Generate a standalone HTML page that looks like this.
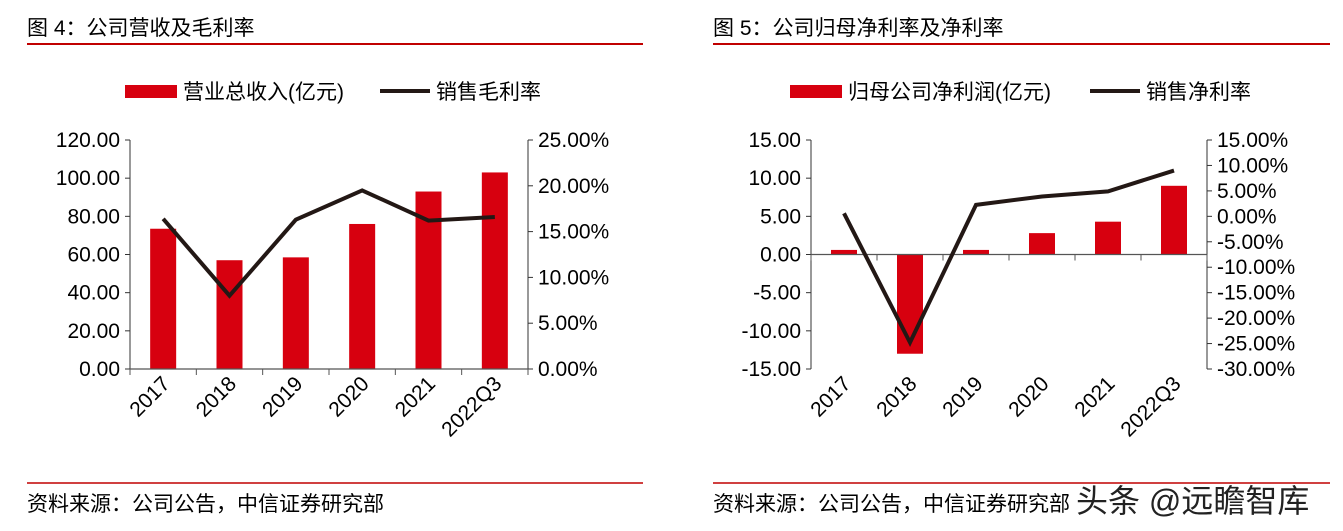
<!DOCTYPE html>
<html><head><meta charset="utf-8"><style>
body{margin:0;background:#fff;}
svg{display:block;font-family:"Liberation Sans","Noto Sans CJK SC",sans-serif;}
</style></head><body>
<svg id="s" width="1343" height="531" viewBox="0 0 1343 531" xmlns="http://www.w3.org/2000/svg">
<text x="27" y="35" font-size="21" fill="#000">图 4：公司营收及毛利率</text>
<line x1="27" y1="44" x2="643" y2="44" stroke="#c00000" stroke-width="2"/>
<text x="713" y="35" font-size="21" fill="#000">图 5：公司归母净利率及净利率</text>
<line x1="713" y1="44" x2="1330" y2="44" stroke="#c00000" stroke-width="2"/>
<line x1="27" y1="483" x2="643" y2="483" stroke="#c00000" stroke-width="1.5"/>
<line x1="713" y1="483" x2="1330" y2="483" stroke="#c00000" stroke-width="1.5"/>
<text x="27" y="511" font-size="21">资料来源：公司公告，中信证券研究部</text>
<text x="713" y="511" font-size="21">资料来源：公司公告，中信证券研究部</text>
<text x="1076" y="512" font-size="32" fill="#222">头条 @远瞻智库</text>
<g>
<rect x="125" y="85" width="52" height="13" fill="#d7000f"/>
<text x="183" y="99" font-size="21">营业总收入(亿元)</text>
<line x1="380" y1="91" x2="430" y2="91" stroke="#231815" stroke-width="4"/>
<text x="436" y="99" font-size="21">销售毛利率</text>
</g>
<g>
<rect x="790" y="85" width="52" height="13" fill="#d7000f"/>
<text x="848" y="99" font-size="21">归母公司净利润(亿元)</text>
<line x1="1090" y1="91" x2="1140" y2="91" stroke="#231815" stroke-width="4"/>
<text x="1146" y="99" font-size="21">销售净利率</text>
</g>
<g id="c1"></g><g id="c2"></g>
</svg>
<script>
const categories = ["2017","2018","2019","2020","2021","2022Q3"];
const revenue = [73.5,57,58.5,76,93,103];
const grossMargin = [16.4,8.0,16.3,19.5,16.2,16.6];
const leftTicks1 = ["0.00","20.00","40.00","60.00","80.00","100.00","120.00"];
const rightTicks1 = ["0.00%","5.00%","10.00%","15.00%","20.00%","25.00%"];
const netProfit = [0.6,-13,0.6,2.8,4.3,9.0];
const netMargin = [0.6,-24.8,2.25,3.9,4.9,9.0];
const leftTicks2 = ["-15.00","-10.00","-5.00","0.00","5.00","10.00","15.00"];
const rightTicks2 = ["-30.00%","-25.00%","-20.00%","-15.00%","-10.00%","-5.00%","0.00%","5.00%","10.00%","15.00%"];
const NS="http://www.w3.org/2000/svg";
function mk(p,t,a){const e=document.createElementNS(NS,t);for(const k in a)e.setAttribute(k,a[k]);p.appendChild(e);return e;}
function draw(g,o){
  const x0=o.x0,x1=o.x1,yT=140,yB=369;
  const yL=v=>yB-(v-o.lmin)/(o.lmax-o.lmin)*(yB-yT);
  const yR=v=>yB-(v-o.rmin)/(o.rmax-o.rmin)*(yB-yT);
  const cw=(x1-x0)/categories.length;
  const xc=i=>x0+cw*(i+0.5);
  const z=yL(0);
  mk(g,'line',{x1:x0,y1:yT,x2:x0,y2:yB,stroke:'#333','stroke-width':1});
  mk(g,'line',{x1:x1,y1:yT,x2:x1,y2:yB,stroke:'#333','stroke-width':1});
  o.lt.forEach(t=>{const v=parseFloat(t),y=yL(v);
    mk(g,'line',{x1:x0-5,y1:y,x2:x0,y2:y,stroke:'#333'});
    const e=mk(g,'text',{x:x0-10,y:y+7,'text-anchor':'end','font-size':21});e.textContent=t;
    
    });
  o.rt.forEach(t=>{const v=parseFloat(t),y=yR(v);
    mk(g,'line',{x1:x1,y1:y,x2:x1+5,y2:y,stroke:'#333'});
    const e=mk(g,'text',{x:x1+10,y:y+7,'font-size':21});e.textContent=t;
    
    });
  o.bars.forEach((v,i)=>{const y=yL(v);
    const r=mk(g,'rect',{x:xc(i)-13,y:Math.min(y,z),width:26,height:Math.abs(z-y),fill:'#d7000f'});
    
    });
  mk(g,'line',{x1:x0,y1:z,x2:x1,y2:z,stroke:'#555','stroke-width':1.2});
  for(let i=0;i<=categories.length;i++)mk(g,'line',{x1:x0+cw*i,y1:z,x2:x0+cw*i,y2:z+6,stroke:'#555'});
  categories.forEach((c,i)=>{const t=mk(g,'text',{transform:`translate(${xc(i)+8},${385}) rotate(-45)`,'text-anchor':'end','font-size':21});t.textContent=c;
    
    });
  const pl=mk(g,'polyline',{points:o.line.map((v,i)=>xc(i)+','+yR(v)).join(' '),fill:'none',stroke:'#231815','stroke-width':4,'stroke-linejoin':'miter'});
  
  
}
draw(document.getElementById('c1'),{x0:130,x1:528,lmin:0,lmax:120,rmin:0,rmax:25,lt:leftTicks1,rt:rightTicks1,bars:revenue,line:grossMargin});
draw(document.getElementById('c2'),{x0:811,x1:1207,lmin:-15,lmax:15,rmin:-30,rmax:15,lt:leftTicks2,rt:rightTicks2,bars:netProfit,line:netMargin});
</script>
</body></html>
